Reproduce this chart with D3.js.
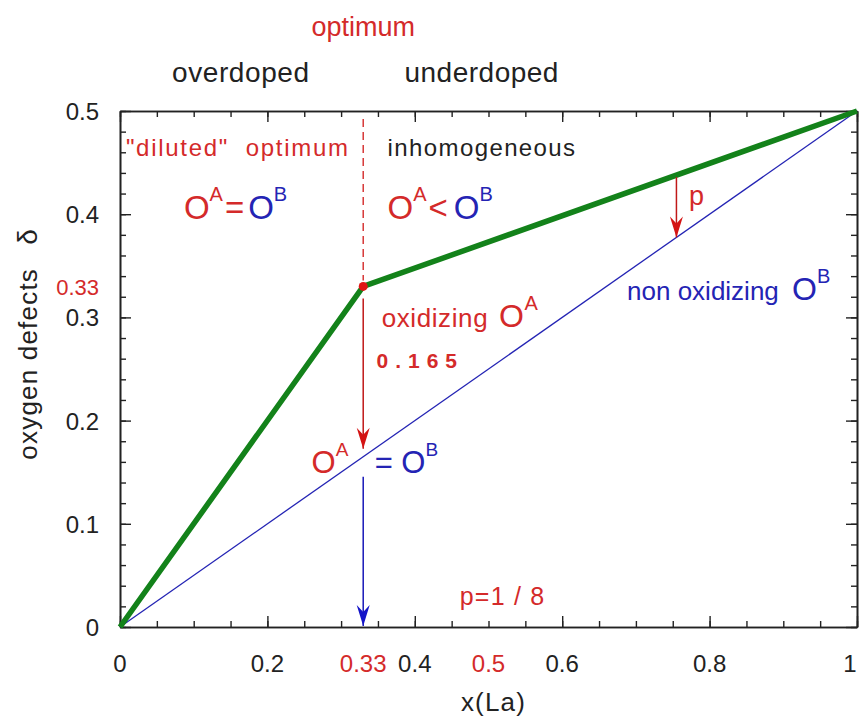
<!DOCTYPE html>
<html>
<head>
<meta charset="utf-8">
<script src="https://cdn.jsdelivr.net/npm/d3@7"></script>
<style>
  html, body { margin: 0; padding: 0; background: #fff; }
  svg { display: block; }
  text { font-family: "Liberation Sans", Arial, Helvetica, sans-serif; }
</style>
</head>
<body>
<svg id="chart" width="859" height="718"></svg>
<script>
// ---- data ----
const xMajorTicks = [0, 0.2, 0.4, 0.6, 0.8, 1];
const xMajorLabels = ["0", "0.2", "0.4", "0.6", "0.8", "1"];
const xMarkedTicks = [0.33, 0.5];
const xMarkedLabels = ["0.33", "0.5"];
const yMajorTicks = [0, 0.1, 0.2, 0.3, 0.4, 0.5];
const yMajorLabels = ["0", "0.1", "0.2", "0.3", "0.4", "0.5"];
const yMarkedTicks = [0.33];
const yMarkedLabels = ["0.33"];

// oxygen defects delta vs La content x
const oxidizingX = [0, 0.33, 1];      // thick green: oxidizing O^A branch
const oxidizingDelta = [0, 0.33, 0.5];
const neutralX = [0, 1];              // thin blue: non oxidizing O^B
const neutralDelta = [0, 0.5];

const optimumX = 0.33;
const optimumDelta = 0.33;
const oxidizingStep = 0.165;          // drop from the optimum to the O^B line
const pArrowX = 0.755;

// ---- layout ----
const W = 859;
const svg = d3.select("#chart");
const plotLeft = 120, plotRight = 857, plotTop = 111, plotBottom = 627;

const x = d3.scaleLinear().domain([0, 1]).range([plotLeft, plotRight]);
const y = d3.scaleLinear().domain([0, 0.5]).range([plotBottom, plotTop]);

const RED = "#d42a2a";
const BLUE = "#2424b4";
const GREEN = "#13821a";
const INK = "#222";

// ---- markers ----
const defs = svg.append("defs");
function arrowMarker(id, color) {
  defs.append("marker")
    .attr("id", id)
    .attr("viewBox", "-22 -8 24 16")
    .attr("refX", 0).attr("refY", 0)
    .attr("markerWidth", 24).attr("markerHeight", 16)
    .attr("markerUnits", "userSpaceOnUse")
    .attr("orient", "auto")
    .append("path")
    .attr("d", "M0,0 L-21,-6.5 L-14,0 L-21,6.5 Z")
    .attr("fill", color);
}
arrowMarker("arrRed", "#d41414");
arrowMarker("arrBlue", "#1414c8");

// ---- axes frame with inward ticks ----
const minorX = d3.range(0, 1.0001, 0.05);
const minorY = d3.range(0, 0.5001, 0.02);

function styleAxis(g) {
  g.selectAll("path.domain").attr("stroke", INK).attr("stroke-width", 1.6);
  g.selectAll(".tick line").attr("stroke", INK).attr("stroke-width", 1.4);
}
function frameSide(axisFn, scale, values, len, transform) {
  svg.append("g").attr("transform", transform)
    .call(axisFn(scale).tickValues(values).tickSize(-len).tickSizeOuter(0).tickFormat(""))
    .call(styleAxis);
}
frameSide(d3.axisBottom, x, minorX, 6, `translate(0,${plotBottom})`);
frameSide(d3.axisTop, x, minorX, 6, `translate(0,${plotTop})`);
frameSide(d3.axisLeft, y, minorY, 6, `translate(${plotLeft},0)`);
frameSide(d3.axisRight, y, minorY, 6, `translate(${plotRight},0)`);
// major ticks are longer
frameSide(d3.axisBottom, x, xMajorTicks, 11, `translate(0,${plotBottom})`);
frameSide(d3.axisTop, x, xMajorTicks, 11, `translate(0,${plotTop})`);
frameSide(d3.axisLeft, y, yMajorTicks, 11, `translate(${plotLeft},0)`);
frameSide(d3.axisRight, y, yMajorTicks, 11, `translate(${plotRight},0)`);

// tick labels (the last one is nudged inside the page edge)
const xl = svg.append("g");
xl.selectAll("text.maj").data(xMajorTicks).join("text").attr("class", "maj")
  .attr("x", d => Math.min(x(d), W - 9)).attr("y", plotBottom + 45)
  .attr("text-anchor", "middle").attr("font-size", 24).attr("fill", INK)
  .text((d, i) => xMajorLabels[i]);
xl.selectAll("text.mark").data(xMarkedTicks).join("text").attr("class", "mark")
  .attr("x", d => x(d)).attr("y", plotBottom + 45)
  .attr("text-anchor", "middle").attr("font-size", 24).attr("fill", RED)
  .text((d, i) => xMarkedLabels[i]);

const yl = svg.append("g");
yl.selectAll("text.maj").data(yMajorTicks).join("text").attr("class", "maj")
  .attr("x", plotLeft - 21).attr("y", d => y(d) + 9)
  .attr("text-anchor", "end").attr("font-size", 24).attr("fill", INK)
  .text((d, i) => yMajorLabels[i]);
yl.selectAll("text.mark").data(yMarkedTicks).join("text").attr("class", "mark")
  .attr("x", plotLeft - 21).attr("y", d => y(d) + 9)
  .attr("text-anchor", "end").attr("font-size", 22).attr("fill", RED)
  .text((d, i) => yMarkedLabels[i]);

// axis titles
svg.append("text")
  .attr("x", x(0.5) + 5).attr("y", 711)
  .attr("text-anchor", "middle").attr("font-size", 26).attr("fill", INK)
  .attr("letter-spacing", 1.2)
  .text("x(La)");
svg.append("text")
  .attr("transform", `translate(37,${y(0.255)}) rotate(-90)`)
  .attr("text-anchor", "middle").attr("font-size", 26).attr("fill", INK)
  .attr("letter-spacing", 1.2)
  .text("oxygen defects");
svg.append("text")
  .attr("transform", `translate(37,${y(0.378)}) rotate(-90)`)
  .attr("text-anchor", "middle").attr("font-size", 28).attr("fill", INK)
  .text("δ");

// ---- lines ----
const line = d3.line().x(d => x(d[0])).y(d => y(d[1]));

svg.append("path")
  .datum(neutralX.map((v, i) => [v, neutralDelta[i]]))
  .attr("d", line).attr("fill", "none")
  .attr("stroke", BLUE).attr("stroke-width", 1.3);

svg.append("path")
  .datum(oxidizingX.map((v, i) => [v, oxidizingDelta[i]]))
  .attr("d", line).attr("fill", "none")
  .attr("stroke", GREEN).attr("stroke-width", 5.5)
  .attr("stroke-linejoin", "round");

// dashed optimum marker above the kink
svg.append("line")
  .attr("x1", x(optimumX)).attr("x2", x(optimumX))
  .attr("y1", y(0.5) + 8).attr("y2", y(optimumDelta) - 6)
  .attr("stroke", RED).attr("stroke-width", 1.4)
  .attr("stroke-dasharray", "8,5");

// oxidizing drop arrow: optimum down to O^A = O^B
svg.append("line")
  .attr("x1", x(optimumX)).attr("x2", x(optimumX))
  .attr("y1", y(optimumDelta) + 12).attr("y2", y(optimumDelta - oxidizingStep) - 8)
  .attr("stroke", "#c01818").attr("stroke-width", 1.5)
  .attr("marker-end", "url(#arrRed)");

// blue arrow down to the x axis
svg.append("line")
  .attr("x1", x(optimumX)).attr("x2", x(optimumX))
  .attr("y1", y(optimumDelta - oxidizingStep) + 20).attr("y2", y(0) - 1)
  .attr("stroke", "#1818b8").attr("stroke-width", 1.5)
  .attr("marker-end", "url(#arrBlue)");

// p arrow between the two branches
const greenAt = d3.scaleLinear().domain(oxidizingX).range(oxidizingDelta);
const blueAt = d3.scaleLinear().domain(neutralX).range(neutralDelta);
svg.append("line")
  .attr("x1", x(pArrowX)).attr("x2", x(pArrowX))
  .attr("y1", y(greenAt(pArrowX)) + 2).attr("y2", y(blueAt(pArrowX)))
  .attr("stroke", "#c01818").attr("stroke-width", 1.5)
  .attr("marker-end", "url(#arrRed)");

// optimum point
svg.append("circle")
  .attr("cx", x(optimumX)).attr("cy", y(optimumDelta)).attr("r", 4.5)
  .attr("fill", "#e01515");

// ---- annotations ----
function label(px, py, opts) {
  return svg.append("text")
    .attr("x", px).attr("y", py)
    .attr("font-size", opts.size || 25)
    .attr("fill", opts.color || INK)
    .attr("text-anchor", opts.anchor || "start")
    .attr("font-weight", opts.weight || "normal")
    .attr("letter-spacing", opts.spacing || 0)
    .style("white-space", "pre")
    .text(opts.text);
}

// O^a <rel> O^b in mixed colours
function oxygenRelation(px, py, parts, size) {
  const t = svg.append("text").attr("x", px).attr("y", py)
    .attr("font-size", size).style("white-space", "pre");
  const sup = Math.round(size * 0.62);
  let raised = false;
  parts.forEach(p => {
    const ts = t.append("tspan").attr("fill", p.color).text(p.text);
    if (p.sup && !raised) { ts.attr("font-size", sup).attr("dy", -size * 0.55); raised = true; }
    else if (!p.sup && raised) { ts.attr("dy", size * 0.55); raised = false; }
    else if (p.sup) ts.attr("font-size", sup);
    if (p.dx) ts.attr("dx", p.dx);
  });
  return t;
}

label(x(optimumX), 36, { text: "optimum", size: 27, color: RED, anchor: "middle" });
label(x(0.0705), 82, { text: "overdoped", size: 28, spacing: 0.6 });
label(x(0.386), 82, { text: "underdoped", size: 28, spacing: 0.5 });

label(x(0.008), y(0.4564), { text: "\"diluted\"  optimum", size: 24, color: RED, spacing: 1.7 });
label(x(0.363), y(0.4564), { text: "inhomogeneous", size: 24, spacing: 1.4 });

oxygenRelation(x(0.0867), y(0.3953), [
  { text: "O", color: RED },
  { text: "A", color: RED, sup: true },
  { text: "=", color: RED, dx: 2 },
  { text: "O", color: BLUE, dx: 4 },
  { text: "B", color: BLUE, sup: true }
], 33);

oxygenRelation(x(0.363), y(0.3953), [
  { text: "O", color: RED },
  { text: "A", color: RED, sup: true },
  { text: "<", color: RED, dx: 2 },
  { text: "O", color: BLUE, dx: 6 },
  { text: "B", color: BLUE, sup: true }
], 33);

const ox = label(x(0.355), y(0.2907), { text: "oxidizing ", size: 26, color: RED, spacing: 0.6 });
ox.append("tspan").attr("font-size", 32).attr("dx", 3).text("O");
ox.append("tspan").attr("font-size", 20).attr("dy", -17).text("A");

label(x(0.348), y(0.251), { text: "0.165", size: 21, color: RED, weight: "bold", spacing: 7 });

oxygenRelation(x(0.26), y(0.149), [
  { text: "O", color: RED },
  { text: "A", color: RED, sup: true }
], 31);
oxygenRelation(x(0.3455), y(0.149), [
  { text: "= ", color: BLUE },
  { text: "O", color: BLUE },
  { text: "B", color: BLUE, sup: true }
], 31);

const non = label(x(0.688), y(0.3169), { text: "non oxidizing ", size: 26, color: BLUE });
non.append("tspan").attr("font-size", 32).attr("dx", 6).text("O");
non.append("tspan").attr("font-size", 20).attr("dy", -17).text("B");

label(x(0.772), y(0.409), { text: "p", size: 27, color: RED });
label(x(0.461), y(0.0213), { text: "p=1 / 8", size: 25, color: RED, spacing: 1.2 });
</script>
</body>
</html>
